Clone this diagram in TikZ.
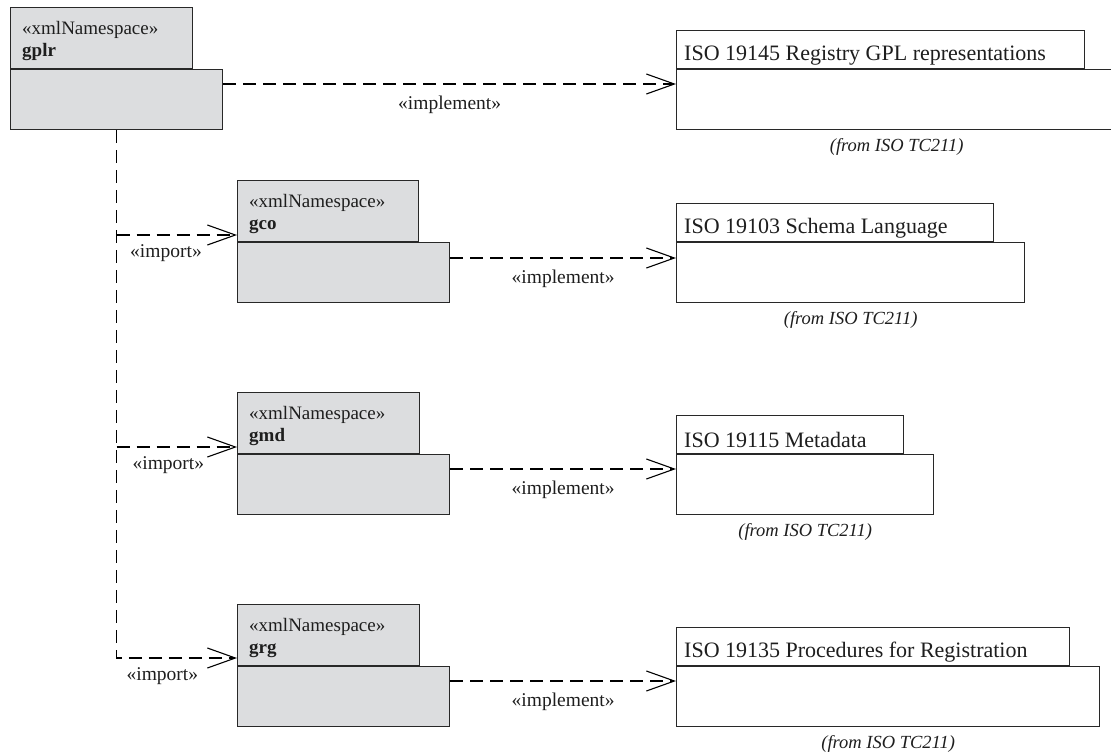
\documentclass[tikz,border=0pt]{standalone}
\usepackage{fontspec}
\setmainfont{Liberation Serif}
\usetikzlibrary{arrows.meta}
\definecolor{Pkg}{RGB}{220,221,223}
\definecolor{Edge}{RGB}{40,40,40}
\definecolor{Ink}{RGB}{30,30,30}
\tikzset{
  pkgbox/.style={draw=Edge, line width=1.3pt, inner sep=0pt},
  dep/.style={line width=1.1pt, dash pattern=on 13pt off 7pt,
    -{Straight Barb[length=28pt,width=20pt,line width=1.1pt]}},
  deplabel/.style={text=Ink, inner sep=1pt, font=\fontsize{19.5}{22}\selectfont},
  fromlabel/.style={text=Ink, inner sep=1pt, font=\fontsize{18.5}{21}\selectfont\itshape},
}
% xml namespace package: name, x, body top, body width, tab width, shown name
\newcommand{\nspackage}[6]{
  \node[pkgbox, fill=Pkg, minimum width=#4pt, minimum height=60pt, anchor=north west] (#1) at (#2,#3) {};
  \node[pkgbox, fill=Pkg, minimum width=#5pt, minimum height=61pt, anchor=south west] (#1tab) at (#1.north west) {};
  \node[anchor=north west, align=left, text=Ink, inner sep=0pt, font=\fontsize{19}{22.5}\selectfont] (#1name)
    at ([shift={(12pt,-14pt)}]#1tab.north west) {«xmlNamespace»\\\textbf{#6}};
}
% standard package: name, x, body top, body width, tab width, title
\newcommand{\isopackage}[6]{
  \node[pkgbox, fill=white, minimum width=#4pt, minimum height=60pt, anchor=north west] (#1) at (#2,#3) {};
  \node[pkgbox, fill=white, minimum width=#5pt, minimum height=38pt, anchor=south west] (#1tab) at (#1.north west) {};
  \node[anchor=west, text=Ink, inner sep=0pt, font=\fontsize{22}{26}\selectfont] (#1title)
    at ([shift={(8pt,-6pt)}]#1tab.west) {#6};
  \node[fromlabel, anchor=north] (#1from) at ([yshift=-7pt]#1.south) {(from ISO TC211)};
}

\begin{document}
\begin{tikzpicture}[x=1pt, y=-1pt]
\useasboundingbox (0,0) rectangle (1111,753);
\nspackage{gplr}{10}{69}{212}{182}{gplr}
\nspackage{gco}{237}{242}{212}{181}{gco}
\nspackage{gmd}{237}{454}{212}{182}{gmd}
\nspackage{grg}{237}{666}{212}{182}{grg}
\isopackage{isoregistry}{676}{69}{440}{408}{ISO 19145 Registry GPL representations}
\isopackage{isoschema}{676}{242}{348}{317}{ISO 19103 Schema Language}
\isopackage{isometa}{676}{454}{257}{227}{ISO 19115 Metadata}
\isopackage{isoproc}{676}{666}{423}{393}{ISO 19135 Procedures for Registration}

% implement
\draw[dep] ([yshift=-15pt]gplr.north east) -- node[deplabel, below=10pt] {«implement»} ([yshift=-15pt]isoregistry.north west);
\draw[dep] ([yshift=-16pt]gco.north east) -- node[deplabel, below=10pt] {«implement»} ([yshift=-16pt]isoschema.north west);
\draw[dep] ([yshift=-15pt]gmd.north east) -- node[deplabel, below=10pt] {«implement»} ([yshift=-15pt]isometa.north west);
\draw[dep] ([yshift=-15pt]grg.north east) -- node[deplabel, below=10pt] {«implement»} ([yshift=-15pt]isoproc.north west);

% import
\coordinate (gcoin) at ([yshift=7pt]gco.north west);
\coordinate (gmdin) at ([yshift=7pt]gmd.north west);
\coordinate (grgin) at ([yshift=8pt]grg.north west);
\draw[dep] (gplr.south) |- node[deplabel, below=8pt, pos=0.69] {«import»} (grgin);
\draw[dep] (gplr.south |- gcoin) -- node[deplabel, below=8pt, pos=0.41] {«import»} (gcoin);
\draw[dep] (gplr.south |- gmdin) -- node[deplabel, below=8pt, pos=0.43] {«import»} (gmdin);
\end{tikzpicture}
\end{document}
